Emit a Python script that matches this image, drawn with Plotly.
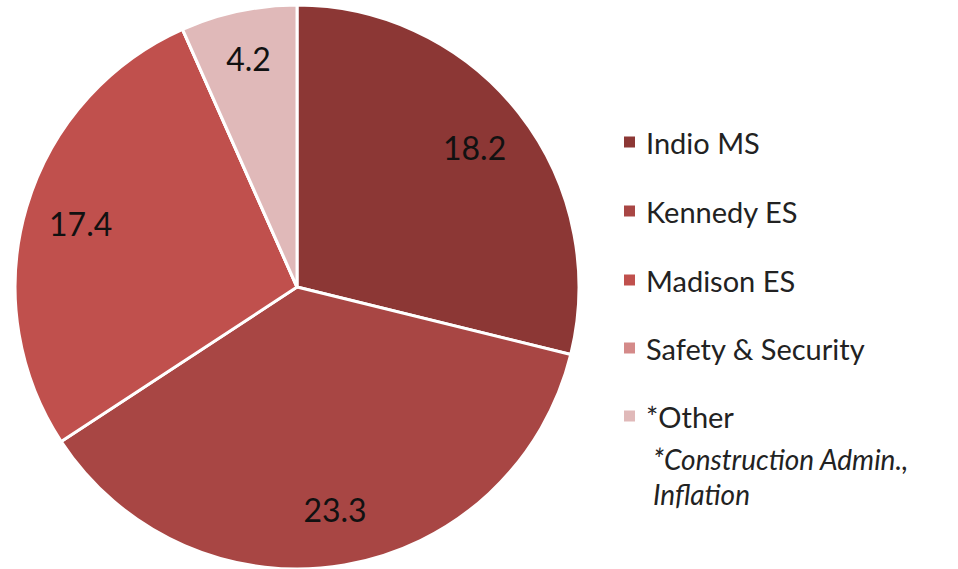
import plotly.graph_objects as go

categories = ["Indio MS", "Kennedy ES", "Madison ES", "Safety & Security", "*Other"]
values = [18.2, 23.3, 17.4, 0, 4.2]
colors = ["#8C3735", "#A84644", "#C0504D", "#D48A89", "#E0B9B9"]
note_lines = ["*Construction Admin.,", "Inflation"]

labels_text = [f"{v}" if v > 0 else "" for v in values]
W, H = 958, 569
dom = dict(x=[0.0157, 0.6044], y=[0.0, 0.991])

fig = go.Figure()
# coloured pie slices
fig.add_trace(go.Pie(
    labels=categories, values=values, textinfo="none",
    sort=False, direction="clockwise", rotation=0,
    marker=dict(colors=colors, line=dict(color="white", width=3)),
    domain=dom, showlegend=False, hoverinfo="label+value",
))
# transparent ring carrying the value labels toward the outer edge
fig.add_trace(go.Pie(
    labels=categories, values=values, text=labels_text,
    textinfo="text", textposition="inside", insidetextorientation="horizontal",
    hole=0.6, sort=False, direction="clockwise", rotation=0,
    marker=dict(colors=["rgba(0,0,0,0)"] * len(values), line=dict(width=0)),
    textfont=dict(family="Lato", size=32, color="#111111"),
    domain=dom, showlegend=False, hoverinfo="skip",
))

leg_y_px = [142, 211, 280, 348, 416]
sq = 11
shapes = []
annotations = []
for cat, col, ypx in zip(categories, colors, leg_y_px):
    shapes.append(dict(type="rect", xref="paper", yref="paper",
                       x0=624 / W, x1=(624 + sq) / W,
                       y0=1 - (ypx + sq / 2) / H, y1=1 - (ypx - sq / 2) / H,
                       fillcolor=col, line=dict(width=0)))
    annotations.append(dict(x=644 / W, y=1 - ypx / H, xref="paper", yref="paper",
                            text=cat, showarrow=False, xanchor="left", yanchor="middle",
                            font=dict(family="Lato", size=29, color="#222222")))
for line, ypx in zip(note_lines, [459, 494]):
    annotations.append(dict(x=651 / W, y=1 - ypx / H, xref="paper", yref="paper",
                            text=f"<i>{line}</i>", showarrow=False, xanchor="left", yanchor="middle",
                            font=dict(family="Lato", size=28, color="#222222")))

fig.update_layout(
    width=W, height=H,
    margin=dict(l=0, r=0, t=0, b=0),
    paper_bgcolor="white", plot_bgcolor="white",
    shapes=shapes, annotations=annotations,
)
fig.write_html("out.html", config={"displayModeBar": False},
               post_script="document.body.style.margin='0';")
